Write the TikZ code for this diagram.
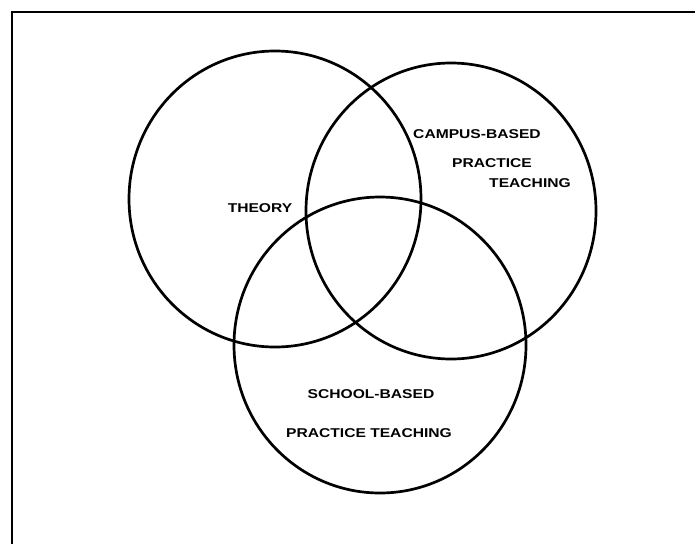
\documentclass[tikz,border=0pt]{standalone}
\usepackage{fontspec}
\setmainfont{Liberation Sans}
\newcommand{\wlabel}[1]{\scalebox{1.22}[1]{#1}}
\tikzset{
  circ/.style={draw=black, line width=2.7pt},
  frameline/.style={draw=black, line width=1.3pt},
  lbl/.style={font=\fontsize{12.8}{14}\selectfont\bfseries, inner sep=0pt, anchor=center}
}
\begin{document}
\begin{tikzpicture}[x=1pt,y=-1pt]
\useasboundingbox[fill=white] (0,0) rectangle (695,544);
% frame (top and left only)
\draw[frameline] (12,544) -- (12,12) -- (695,12);
% circles
\draw[circ] (275,199) ellipse [x radius=146, y radius=148];
\draw[circ] (451,211) ellipse [x radius=145, y radius=148];
\draw[circ] (380,345) ellipse [x radius=146, y radius=148];
% labels
\node[lbl] (theory) at (260,208) {\wlabel{THEORY}};
\node[lbl] (campus1) at (477,134) {\wlabel{CAMPUS-BASED}};
\node[lbl] (campus2) at (492,163) {\wlabel{PRACTICE}};
\node[lbl] (campus3) at (530,183) {\wlabel{TEACHING}};
\node[lbl] (school1) at (371,394) {\wlabel{SCHOOL-BASED}};
\node[lbl] (school2) at (369,433) {\wlabel{PRACTICE TEACHING}};
\end{tikzpicture}
\end{document}
